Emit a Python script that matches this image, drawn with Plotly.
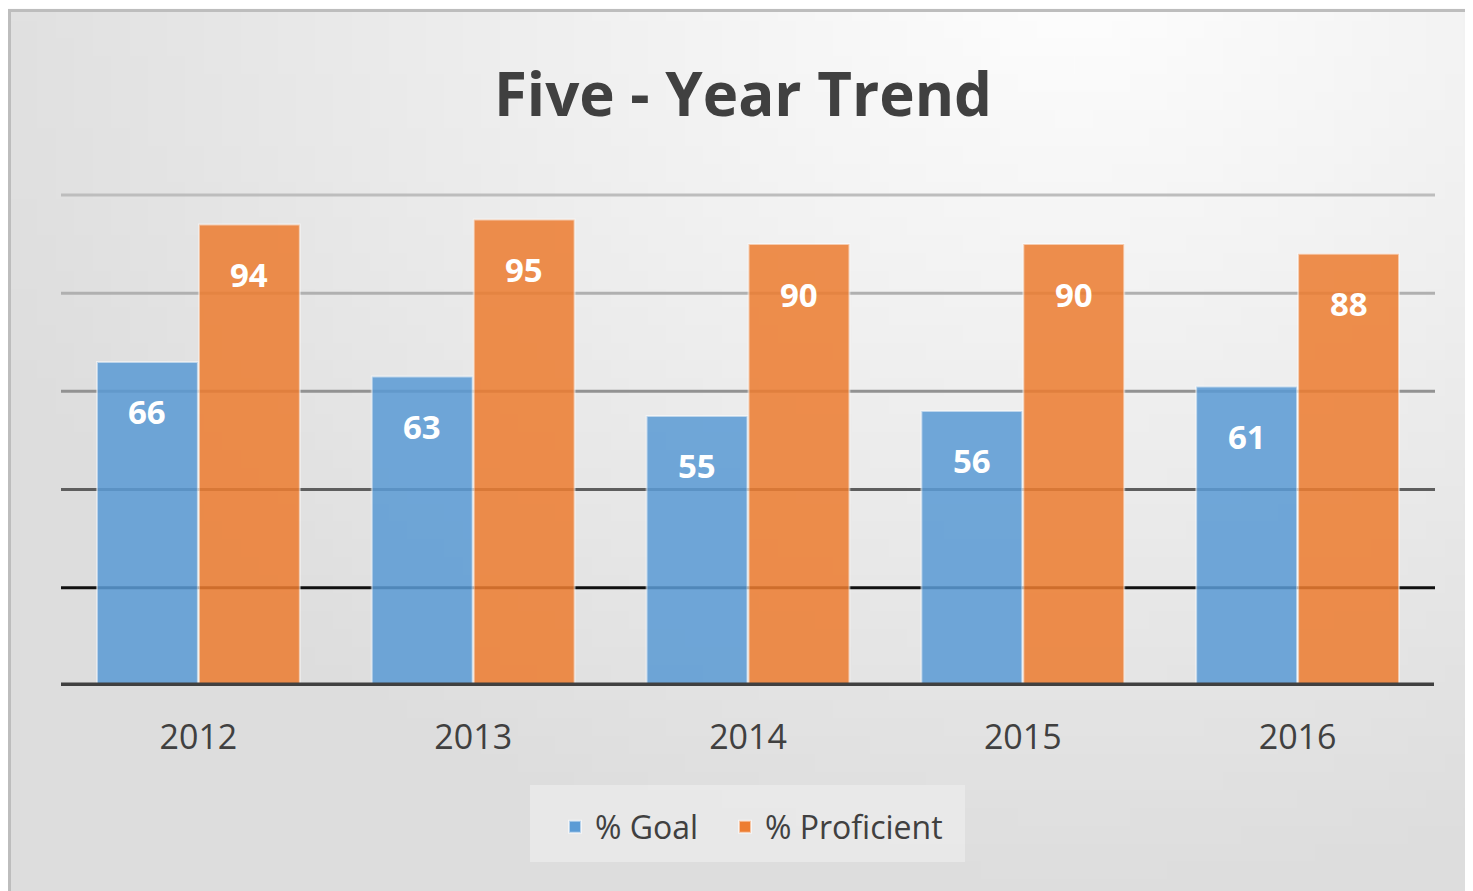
import base64, struct, zlib
import plotly.graph_objects as go

years = ["2012", "2013", "2014", "2015", "2016"]
goal = [66, 63, 55, 56, 61]
proficient = [94, 95, 90, 90, 88]
grid_vals = [20, 40, 60, 80, 100]
grid_colors = ["#111111", "#5e5e5e", "#929292", "#b0b0b0", "#bdbdbd"]

OFF = 8  # page body margin offset
W, H = 1473 - OFF, 891 - OFF
ML, MR, MT, MB = 61 - OFF, 38, 190 - OFF, 205


def px_to_paper_x(px):
    return (px - OFF - ML) / (W - ML - MR)


def px_to_paper_y(py):
    return (H - MB - (py - OFF)) / (H - MT - MB)


# background gradient image (pure python PNG)
def make_png(w, h):
    rows = []
    cx, cy = 0.72, -0.05
    for j in range(h):
        row = bytearray()
        for i in range(w):
            x, y = i / (w - 1), j / (h - 1)
            d = (((x - cx) * 1.3) ** 2 + (y - cy) ** 2) ** 0.5
            t = min(d / 1.05, 1.0)
            v = int(round(254 - (254 - 221) * t))
            row += bytes((v, v, v))
        rows.append(b"\x00" + bytes(row))
    raw = b"".join(rows)

    def chunk(tag, data):
        return struct.pack(">I", len(data)) + tag + data + struct.pack(">I", zlib.crc32(tag + data) & 0xFFFFFFFF)

    return (b"\x89PNG\r\n\x1a\n" + chunk(b"IHDR", struct.pack(">IIBBBBB", w, h, 8, 2, 0, 0, 0))
            + chunk(b"IDAT", zlib.compress(raw)) + chunk(b"IEND", b""))


bg_src = "data:image/png;base64," + base64.b64encode(make_png(80, 50)).decode()

fig = go.Figure()
fig.add_trace(go.Bar(
    name="% Goal", x=years, y=goal, legend="legend",
    marker=dict(color="#5B9BD5", opacity=0.86, line=dict(color="rgba(255,255,255,0.55)", width=2)),
    hoverinfo="x+y",
))
fig.add_trace(go.Bar(
    name="% Proficient", x=years, y=proficient, legend="legend2",
    marker=dict(color="#ED7D31", opacity=0.86, line=dict(color="rgba(255,255,255,0.55)", width=2)),
    hoverinfo="x+y",
))

annotations = []
for idx, (g, p) in enumerate(zip(goal, proficient)):
    for val, shift in ((g, -51), (p, 51)):
        annotations.append(dict(
            x=idx, y=val, xref="x", yref="y", text=str(val), showarrow=False,
            xshift=shift, yshift=-50, yanchor="middle",
            font=dict(family="Open Sans", size=33, color="white", weight="bold"),
        ))

shapes = []
# outer chart border
shapes.append(dict(type="rect", xref="paper", yref="paper",
                   x0=px_to_paper_x(9.5), x1=px_to_paper_x(1490),
                   y0=px_to_paper_y(905), y1=px_to_paper_y(10.5),
                   line=dict(color="#bdbdbd", width=3), fillcolor="rgba(0,0,0,0)", layer="below"))
# legend box
shapes.append(dict(type="rect", xref="paper", yref="paper",
                   x0=px_to_paper_x(530), x1=px_to_paper_x(965),
                   y0=px_to_paper_y(862), y1=px_to_paper_y(785),
                   line=dict(width=0), fillcolor="rgba(240,240,240,0.55)", layer="below"))
for gv, gc in zip(grid_vals, grid_colors):
    shapes.append(dict(type="line", xref="paper", yref="y", x0=0, x1=1, y0=gv, y1=gv,
                       line=dict(color=gc, width=3), layer="below"))
shapes.append(dict(type="line", xref="paper", yref="y", x0=0, x1=px_to_paper_x(1434), y0=0, y1=0,
                   line=dict(color="#404040", width=7), layer="above"))

legend_common = dict(orientation="h", xanchor="left", y=px_to_paper_y(827), yanchor="middle",
                     bgcolor="rgba(0,0,0,0)",
                     font=dict(family="Open Sans", size=32, color="#404040"))

fig.update_layout(
    width=W, height=H,
    margin=dict(l=ML, r=MR, t=MT, b=MB, autoexpand=False),
    paper_bgcolor="#fbfbfb",
    plot_bgcolor="rgba(0,0,0,0)",
    barmode="group", bargap=0.258, bargroupgap=0.01,
    title=dict(text="<b>Five - Year Trend</b>", x=(743 - OFF) / W, xanchor="center", xref="container",
               y=1 - (95 - OFF) / H, yanchor="middle", yref="container",
               font=dict(family="Open Sans", size=60, color="#404040")),
    xaxis=dict(type="category", showgrid=False, showline=False, zeroline=False, ticks="",
               tickfont=dict(family="Open Sans", size=34, color="#404040"), ticklabelstandoff=28),
    yaxis=dict(range=[0, 101], showgrid=False, zeroline=False, showticklabels=False, ticks="",
               showline=False, tickvals=grid_vals),
    legend=dict(x=px_to_paper_x(555), **legend_common),
    legend2=dict(x=px_to_paper_x(725), **legend_common),
    images=[dict(source=bg_src, xref="paper", yref="paper",
                 x=px_to_paper_x(9.5), y=px_to_paper_y(10.5),
                 sizex=px_to_paper_x(1490) - px_to_paper_x(9.5),
                 sizey=px_to_paper_y(10.5) - px_to_paper_y(905),
                 sizing="stretch", xanchor="left", yanchor="top", layer="below")],
    annotations=annotations,
    shapes=shapes,
    showlegend=True,
)

fig.write_html("out.html")
